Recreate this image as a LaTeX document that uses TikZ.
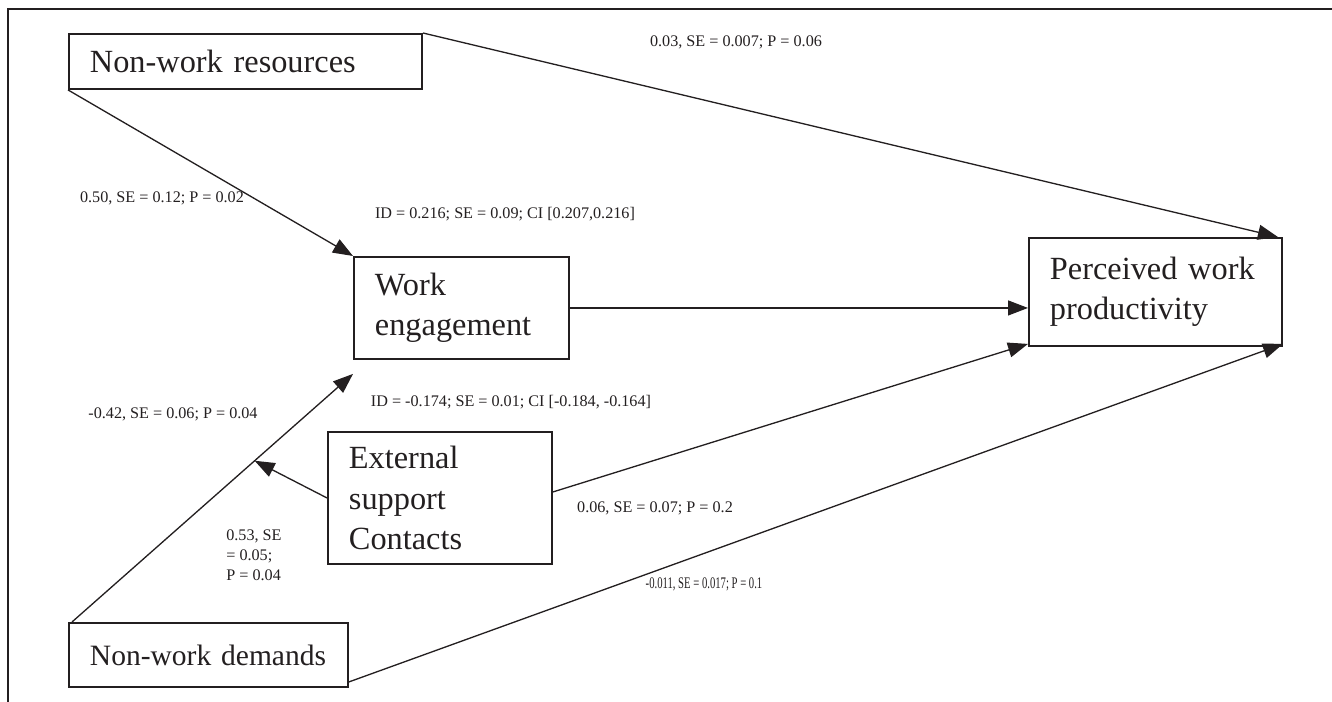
\documentclass[tikz,border=0pt]{standalone}
\usepackage{fontspec}
\usepackage{graphicx}
\setmainfont{Liberation Serif}
\usetikzlibrary{arrows.meta}
\definecolor{ink}{RGB}{35,31,32}
\tikzset{
  box/.style={draw=ink, line width=1.1pt, anchor=north west, align=left,
    inner xsep=0.42cm, inner ysep=0pt, text=ink,
    font=\fontsize{18.4}{22.8}\selectfont},
  link/.style={->, draw=ink, line width=0.75pt},
  coef/.style={text=ink, inner sep=0pt, font=\fontsize{9.2}{11.4}\selectfont},
  >={Triangle[length=0.4cm, width=0.3cm]}
}

\begin{document}
\begin{tikzpicture}
    \useasboundingbox (0,0) rectangle (26.64,14.04);
    % Frame
    \draw[ink, line width=1.2pt] (0.16,0) -- (0.16,13.86) -- (26.64,13.86);

    % Boxes
    \node[box, text width=6.22cm, minimum width=7.06cm, minimum height=1.1cm] (nwr) at (1.36,13.38) {\mbox{Non-work resources}};
    \node[box, text width=3.46cm, minimum width=4.3cm, minimum height=2.04cm] (we) at (7.06,8.92) {Work\\engagement};
    \node[box, text width=4.22cm, minimum width=5.06cm, minimum height=2.16cm] (pwp) at (20.56,9.30) {\mbox{Perceived work}\\productivity};
    \node[box, text width=3.64cm, minimum width=4.48cm, minimum height=2.64cm] (esc) at (6.54,5.42) {External\\support\\Contacts};
    \node[box, font=\fontsize{16.8}{20}\selectfont, text width=4.74cm, minimum width=5.58cm, minimum height=1.28cm] (nwd) at (1.36,1.60) {\mbox{Non-work demands}};

    % Helper points
    \coordinate (nwd start) at ([xshift=0.08cm]nwd.north west);
    \coordinate (we tip) at ([yshift=-0.28cm]we.south west);
    \path (nwd start) -- (we tip) coordinate[pos=0.65] (mod);

    % Paths
    \draw[link] (nwr.south west) -- (we.north west);
    \draw[link] (nwr.north east) -- ([xshift=-0.1cm]pwp.north east);
    \draw[link] (we.east) -- (we.east -| pwp.west);
    \draw[link] ([yshift=0.12cm]esc.east) -- ([yshift=0.06cm]pwp.south west);
    \draw[link] ([yshift=0.12cm]nwd.south east) -- ([yshift=0.06cm]pwp.south east);
    \draw[link] (nwd start) -- (we tip);
    \draw[link] (esc.west) -- (mod);

    % Coefficients
    \node[coef] (c top) at (14.72,13.20) {0.03, SE = 0.007; P = 0.06};
    \node[coef] (c nwr) at (3.24,10.08) {0.50, SE = 0.12; P = 0.02};
    \node[coef] (c id1) at (10.10,9.76) {ID = 0.216; SE = 0.09; CI [0.207,0.216]};
    \node[coef] (c id2) at (10.22,6.00) {ID = -0.174; SE = 0.01; CI [-0.184, -0.164]};
    \node[coef] (c nwd) at (3.46,5.76) {-0.42, SE = 0.06; P = 0.04};
    \node[coef, anchor=west, align=left] (c esc) at (4.52,2.93) {0.53, SE\\= 0.05;\\P = 0.04};
    \node[coef] (c ext) at (13.10,3.88) {0.06, SE = 0.07; P = 0.2};
    \node[coef] (c dir) at (14.08,2.36) {\scalebox{0.66}[1]{-0.011, SE = 0.017; P = 0.1}};
\end{tikzpicture}
\end{document}
